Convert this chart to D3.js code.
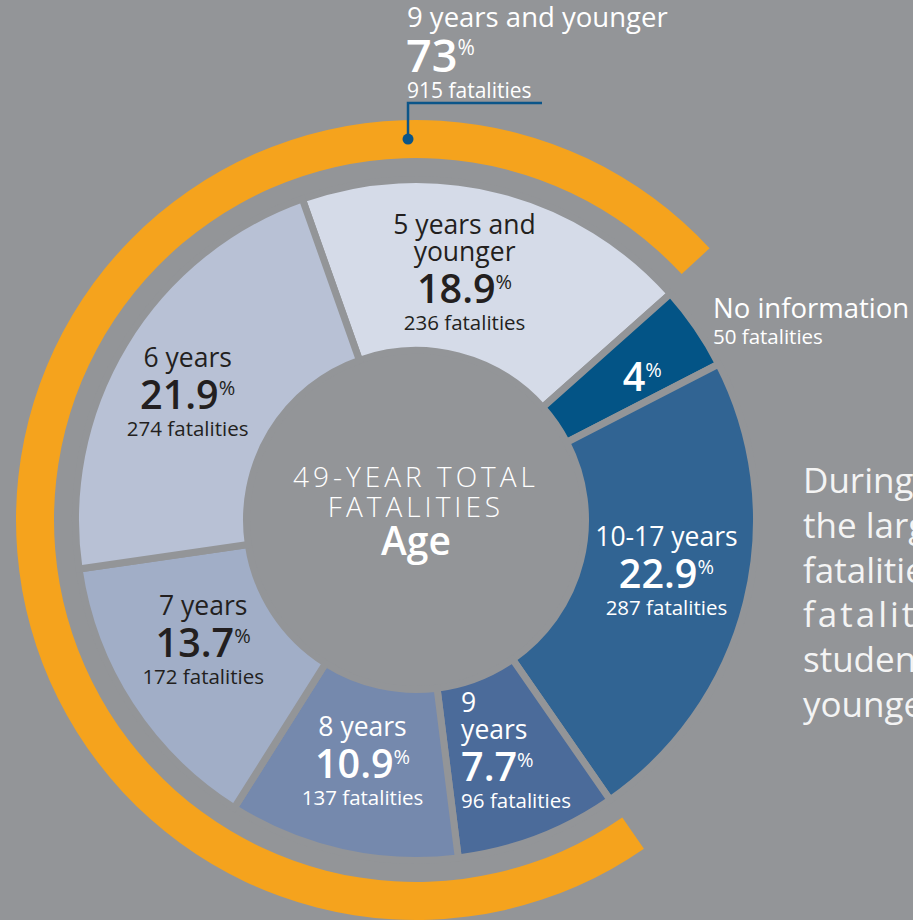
<!DOCTYPE html>
<html lang="en">
<head>
  <meta charset="UTF-8">
  <title>49-Year Total Fatalities by Age</title>
  <style>
    body { margin: 0; background: #939598; }
    svg { display: block; font-family: 'Open Sans', sans-serif; }
  </style>
</head>
<body>
  <svg width="913" height="920"></svg>
  <script src="https://cdn.jsdelivr.net/npm/d3@7/dist/d3.min.js"></script>
  <script>
    // slices, clockwise from the top
    var categories = ['5 years and younger', 'No information', '10-17 years', '9 years', '8 years', '7 years', '6 years']
    var fatalities = [236, 50, 287, 96, 137, 172, 274]
    var percents = ['18.9', '4', '22.9', '7.7', '10.9', '13.7', '21.9']
    var nameLines = [['5 years and', 'younger'], [], ['10-17 years'], ['9', 'years'], ['8 years'], ['7 years'], ['6 years']]
    var totalUnder10 = { label: '9 years and younger', pct: '73', count: 915 }
    var noInfo = { label: 'No information', count: 50 }
    var sideText = ['During', 'the largest', 'fatalities', 'fatalities', 'students', 'younger']

    var colors = ['#d5dbe8', '#035486', '#316493', '#4b6b9a', '#7589ad', '#a1aec7', '#b8c1d5']
    var textColors = ['#231f20', '#fff', '#fff', '#fff', '#fff', '#231f20', '#231f20']
    // label nudges from the centroid [dx, dy, anchor]
    var nudges = [[-15, 0, 'middle'], [16, 2, 'middle'], [3, -10, 'middle'], [-46, -7, 'start'],
      [2, -7, 'middle'], [1, -18, 'middle'], [-10, 4, 'middle']]

    var bg = '#939598'
    var svg = d3.select('svg')
    var cx = 416, cy = 520
    var rIn = 173, rOut = 337, rLabel = 255
    var start = -19.5 * Math.PI / 180

    var pie = d3.pie().sort(null).value(function(d) { return d })
      .startAngle(start).endAngle(start + 2 * Math.PI)
    var arcs = pie(fatalities)

    var arc = d3.arc().innerRadius(rIn - 3.5).outerRadius(rOut + 3.5)
    var labelArc = d3.arc().innerRadius(rLabel).outerRadius(rLabel)

    var g = svg.append('g').attr('transform', 'translate(' + cx + ',' + cy + ')')

    g.selectAll('.slice')
      .data(arcs)
      .enter()
      .append('path')
      .attr('class', 'slice')
      .attr('d', arc)
      .attr('fill', function(d, i) { return colors[i] })
      .attr('stroke', bg)
      .attr('stroke-width', 7)

    // orange band over the 9-and-younger slices (9 yrs start -> 5 yrs end)
    var bandStart = arcs[3].startAngle
    var bandEnd = arcs[0].endAngle + 2 * Math.PI - 0.02
    g.append('path')
      .attr('d', d3.arc().innerRadius(362).outerRadius(400)({ startAngle: bandStart, endAngle: bandEnd }))
      .attr('fill', '#f5a31d')

    // slice labels
    arcs.forEach(function(d, i) {
      var c = labelArc.centroid(d)
      var nd = nudges[i]
      var lines = []
      var y = 0
      nameLines[i].forEach(function(t, k) {
        if (k > 0) y += 27.5
        lines.push({ text: t, y: y, kind: 'name' })
      })
      if (lines.length) y += 42
      lines.push({ text: percents[i], y: y, kind: 'pct' })
      if (i !== 1) {
        y += 27
        lines.push({ text: fatalities[i] + ' fatalities', y: y, kind: 'fat' })
      }
      var top = lines[0].kind === 'pct' ? -27 : -18
      var shift = -(top + y) / 2

      var lg = g.append('g')
        .attr('transform', 'translate(' + (c[0] + nd[0]) + ',' + (c[1] + nd[1] + shift) + ')')
        .attr('fill', textColors[i])
        .attr('text-anchor', nd[2])

      lines.forEach(function(l) {
        var t = lg.append('text').attr('y', l.y)
        if (l.kind === 'name') {
          t.attr('font-size', 26.5).text(l.text)
        } else if (l.kind === 'fat') {
          t.attr('font-size', 20.5).text(l.text)
        } else {
          t.append('tspan').attr('font-size', 39.5).attr('font-weight', 600).text(l.text)
          t.append('tspan').attr('font-size', 20).attr('dy', -14).text('%')
        }
      })
    })

    // center title
    var ct = g.append('g').attr('fill', '#fff').attr('text-anchor', 'middle')
    ct.append('text').attr('y', -33).attr('font-size', 28).attr('font-weight', 300)
      .attr('letter-spacing', 4).text('49-YEAR TOTAL')
    ct.append('text').attr('y', -3).attr('font-size', 28).attr('font-weight', 300)
      .attr('letter-spacing', 4).text('FATALITIES')
    ct.append('text').attr('y', 35).attr('font-size', 39).attr('font-weight', 600).text('Age')

    // 9 years and younger callout
    var dotAngle = -1.2 * Math.PI / 180
    var dotX = cx + 381 * Math.sin(dotAngle), dotY = cy - 381 * Math.cos(dotAngle)
    svg.append('path')
      .attr('d', 'M' + dotX + ',' + dotY + 'V103H542')
      .attr('fill', 'none')
      .attr('stroke', '#0b5589')
      .attr('stroke-width', 2.5)
    svg.append('circle').attr('cx', dotX).attr('cy', dotY).attr('r', 5.5).attr('fill', '#0b5589')

    var topLabel = svg.append('g').attr('fill', '#fff')
    topLabel.append('text').attr('x', 407).attr('y', 27).attr('font-size', 27.5).text(totalUnder10.label)
    var tp = topLabel.append('text').attr('x', 406).attr('y', 72)
    tp.append('tspan').attr('font-size', 45).attr('font-weight', 600).text(totalUnder10.pct)
    tp.append('tspan').attr('font-size', 21).attr('dy', -17).text('%')
    topLabel.append('text').attr('x', 407).attr('y', 98).attr('font-size', 21)
      .text(totalUnder10.count + ' fatalities')

    // no information callout
    svg.append('text').attr('x', 713).attr('y', 318).attr('font-size', 27.5).attr('fill', '#fff').text(noInfo.label)
    svg.append('text').attr('x', 713).attr('y', 344).attr('font-size', 20.5).attr('fill', '#fff')
      .text(noInfo.count + ' fatalities')

    // side text (runs off the right edge, as in the source)
    svg.append('g').selectAll('text')
      .data(sideText)
      .enter()
      .append('text')
      .attr('x', 803)
      .attr('y', function(d, i) { return 493 + i * 44.8 })
      .attr('font-size', 35)
      .attr('fill', '#f4f4f4')
      .attr('letter-spacing', function(d, i) { return i === 3 ? 3 : 0 })
      .text(function(d) { return d })
  </script>
</body>
</html>
